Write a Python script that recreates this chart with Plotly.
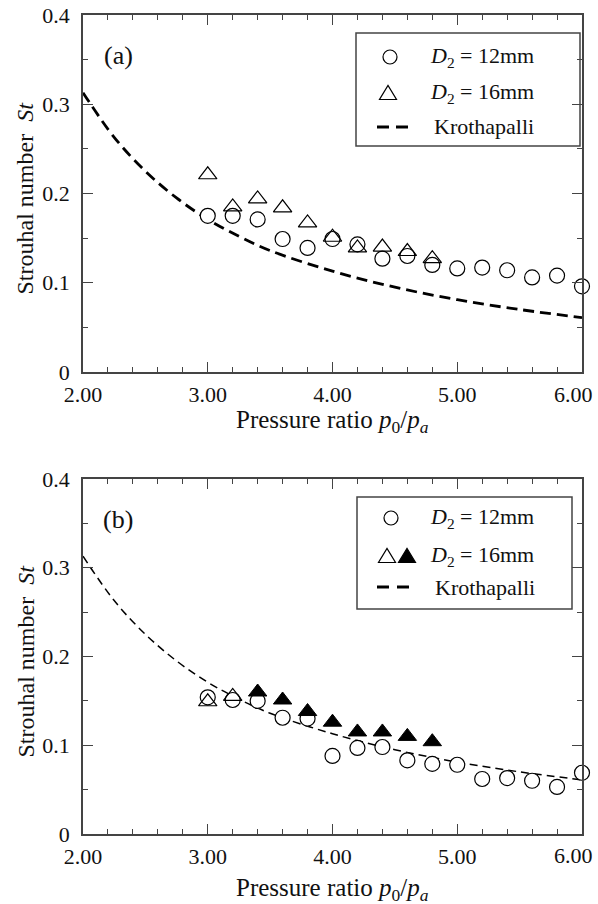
import plotly.graph_objects as go

# ---------------- data ----------------
ratio_12 = [3.0, 3.2, 3.4, 3.6, 3.8, 4.0, 4.2, 4.4, 4.6, 4.8, 5.0, 5.2, 5.4, 5.6, 5.8, 6.0]
st_a_12 = [0.175, 0.175, 0.171, 0.149, 0.139, 0.149, 0.143, 0.127, 0.130, 0.120, 0.116, 0.117, 0.114, 0.106, 0.108, 0.096]
ratio_16_a = [3.0, 3.2, 3.4, 3.6, 3.8, 4.0, 4.2, 4.4, 4.6, 4.8]
st_a_16 = [0.221, 0.185, 0.194, 0.184, 0.167, 0.151, 0.139, 0.140, 0.135, 0.127]

st_b_12 = [0.154, 0.151, 0.150, 0.131, 0.130, 0.088, 0.097, 0.098, 0.083, 0.079, 0.078, 0.062, 0.063, 0.060, 0.053, 0.069]
ratio_16_b_open = [3.0, 3.2]
st_b_16_open = [0.149, 0.155]
ratio_16_b_fill = [3.4, 3.6, 3.8, 4.0, 4.2, 4.4, 4.6, 4.8]
st_b_16_fill = [0.160, 0.151, 0.138, 0.126, 0.115, 0.115, 0.110, 0.104]

kroth_ratio = [2.0, 2.25, 2.5, 2.75, 3.0, 3.25, 3.5, 4.0, 4.5, 5.0, 5.5, 6.0]
kroth_st = [0.313, 0.263, 0.225, 0.195, 0.171, 0.152, 0.136, 0.113, 0.095, 0.081, 0.070, 0.061]

x_tickvals = [2, 3, 4, 5, 6]
x_ticktext = ["2.00", "3.00", "4.00", "5.00", "6.00"]
y_tickvals = [0, 0.1, 0.2, 0.3, 0.4]
y_ticktext = ["0", "0.1", "0.2", "0.3", "0.4"]

# ---------------- layout helpers ----------------
W, H = 598, 904
L, R, T, B = 83, 16, 15, 70
PW, PH = W - L - R, H - T - B
def px(X):
    return (X - L) / PW
def py(Y):
    return (H - B - Y) / PH

SERIF = "Liberation Serif, Times New Roman, serif"
AX = "#444444"

fig = go.Figure()

def add_panel(xa, ya, st12, r16_open, st16_open, r16_fill, st16_fill, kw, kdash):
    fig.add_trace(go.Scatter(x=kroth_ratio, y=kroth_st, mode="lines", xaxis=xa, yaxis=ya,
                             line=dict(color="black", width=kw, dash=kdash, shape="spline"),
                             showlegend=False, cliponaxis=False))
    fig.add_trace(go.Scatter(x=ratio_12, y=st12, mode="markers", xaxis=xa, yaxis=ya,
                             marker=dict(symbol="circle", size=15, color="white",
                                         line=dict(color="black", width=1.2)),
                             showlegend=False, cliponaxis=False))
    fig.add_trace(go.Scatter(x=r16_open, y=st16_open, mode="markers", xaxis=xa, yaxis=ya,
                             marker=dict(symbol="triangle-up-open", size=16, color="black",
                                         line=dict(color="black", width=1.2)),
                             showlegend=False, cliponaxis=False))
    if r16_fill:
        fig.add_trace(go.Scatter(x=r16_fill, y=st16_fill, mode="markers", xaxis=xa, yaxis=ya,
                                 marker=dict(symbol="triangle-up", size=16, color="black",
                                             line=dict(color="black", width=1)),
                                 showlegend=False, cliponaxis=False))

add_panel("x", "y", st_a_12, ratio_16_a, st_a_16, None, None, 2.8, "11px,6px")
add_panel("x2", "y2", st_b_12, ratio_16_b_open, st_b_16_open, ratio_16_b_fill, st_b_16_fill, 1.5, "8px,5px")

# the last x label sits against the right edge in the reference, so it is placed
# as an annotation pulled slightly left; the axis shows the other labels
axis_ticktext = x_ticktext[:-1] + [""]

def xaxis(anchor):
    return dict(range=[2, 6], tickvals=x_tickvals, ticktext=axis_ticktext, anchor=anchor,
                ticks="inside", ticklen=10, tickwidth=1.2, tickcolor=AX,
                minor=dict(dtick=0.2, ticks="inside", ticklen=5, tickwidth=1.2, tickcolor=AX),
                showline=True, linecolor=AX, linewidth=1.5, mirror="ticks",
                showgrid=False, zeroline=False, domain=[0, 1],
                tickfont=dict(family=SERIF, size=22, color="#111"),
                ticklabelstandoff=2, ticklabeloverflow="allow")

def yaxis(anchor, dom):
    return dict(range=[0, 0.4], tickvals=y_tickvals, ticktext=y_ticktext, anchor=anchor,
                ticks="inside", ticklen=10, tickwidth=1.2, tickcolor=AX,
                minor=dict(dtick=0.05, ticks="inside", ticklen=5, tickwidth=1.2, tickcolor=AX),
                showline=True, linecolor=AX, linewidth=1.5, mirror="ticks",
                showgrid=False, zeroline=False, domain=dom,
                tickfont=dict(family=SERIF, size=22, color="#111"),
                ticklabelstandoff=7, ticklabeloverflow="allow")

dom_a = [py(372), 1]
dom_b = [0, py(479)]

annotations = []
shapes = []

def txt(X, Y, s, size=22, anchor="left", angle=0):
    annotations.append(dict(x=px(X), y=py(Y), xref="paper", yref="paper", text=s, showarrow=False,
                            xanchor=anchor, yanchor="middle", textangle=angle,
                            font=dict(family=SERIF, size=size, color="#111")))

for (top, bot, lab, dy) in [(15, 372, "(a)", 49), (479, 834, "(b)", 55)]:
    txt(118, top + 40, lab, size=26, anchor="center")
    txt(25, (top + bot) / 2 + 5, "Strouhal number\u00a0 <i>St</i>", size=24, anchor="center", angle=-90)
    txt(332.5, bot + dy, "Pressure ratio <i>p</i><sub>0</sub>/<i>p<sub>a</sub></i>", size=25, anchor="center")
    txt(595, bot + 22, x_ticktext[-1], size=22, anchor="right")

def rect(x0, y0, x1, y1):
    shapes.append(dict(type="rect", xref="paper", yref="paper", x0=px(x0), x1=px(x1), y0=py(y0), y1=py(y1),
                       line=dict(color=AX, width=1.5), fillcolor="rgba(0,0,0,0)"))

def circ(X, Y, r=7):
    shapes.append(dict(type="circle", xref="paper", yref="paper", xsizemode="pixel", ysizemode="pixel",
                       xanchor=px(X), yanchor=py(Y), x0=-r, x1=r, y0=-r, y1=r,
                       line=dict(color="black", width=1.2), fillcolor="white"))

def tri(X, Y, filled=False):
    shapes.append(dict(type="path", xref="paper", yref="paper", xsizemode="pixel", ysizemode="pixel",
                       xanchor=px(X), yanchor=py(Y), path="M-8.5,-6.5 L8.5,-6.5 L0,7.5 Z",
                       line=dict(color="black", width=1.2),
                       fillcolor="black" if filled else "rgba(0,0,0,0)"))

def dash(x0, x1, Y, w, d):
    shapes.append(dict(type="line", xref="paper", yref="paper", x0=px(x0), x1=px(x1), y0=py(Y), y1=py(Y),
                       line=dict(color="black", width=w, dash=d)))

# legend (a)
rect(356, 33, 580, 146)
circ(390, 57)
tri(388, 93)
dash(377, 408, 127, 3, "12px,7px")
txt(428, 57, "<i>D</i><sub>2</sub> = 12mm")
txt(428, 93, "<i>D</i><sub>2</sub> = 16mm")
txt(432, 127, "Krothapalli")

# legend (b)
rect(357, 497, 572, 609)
circ(391, 518)
tri(387, 556)
tri(407, 556, filled=True)
dash(377, 410, 587, 3, "12px,8px")
txt(428, 518, "<i>D</i><sub>2</sub> = 12mm")
txt(428, 556, "<i>D</i><sub>2</sub> = 16mm")
txt(433, 587, "Krothapalli")

fig.update_layout(
    width=W, height=H,
    margin=dict(l=L, r=R, t=T, b=B, autoexpand=False),
    paper_bgcolor="white", plot_bgcolor="white",
    xaxis=xaxis("y"), yaxis=yaxis("x", dom_a),
    xaxis2=xaxis("y2"), yaxis2=yaxis("x2", dom_b),
    annotations=annotations, shapes=shapes,
    showlegend=False,
)

fig.write_html("out.html", config={"displayModeBar": False},
               post_script="document.body.style.margin='0px';document.body.style.overflow='hidden';")
